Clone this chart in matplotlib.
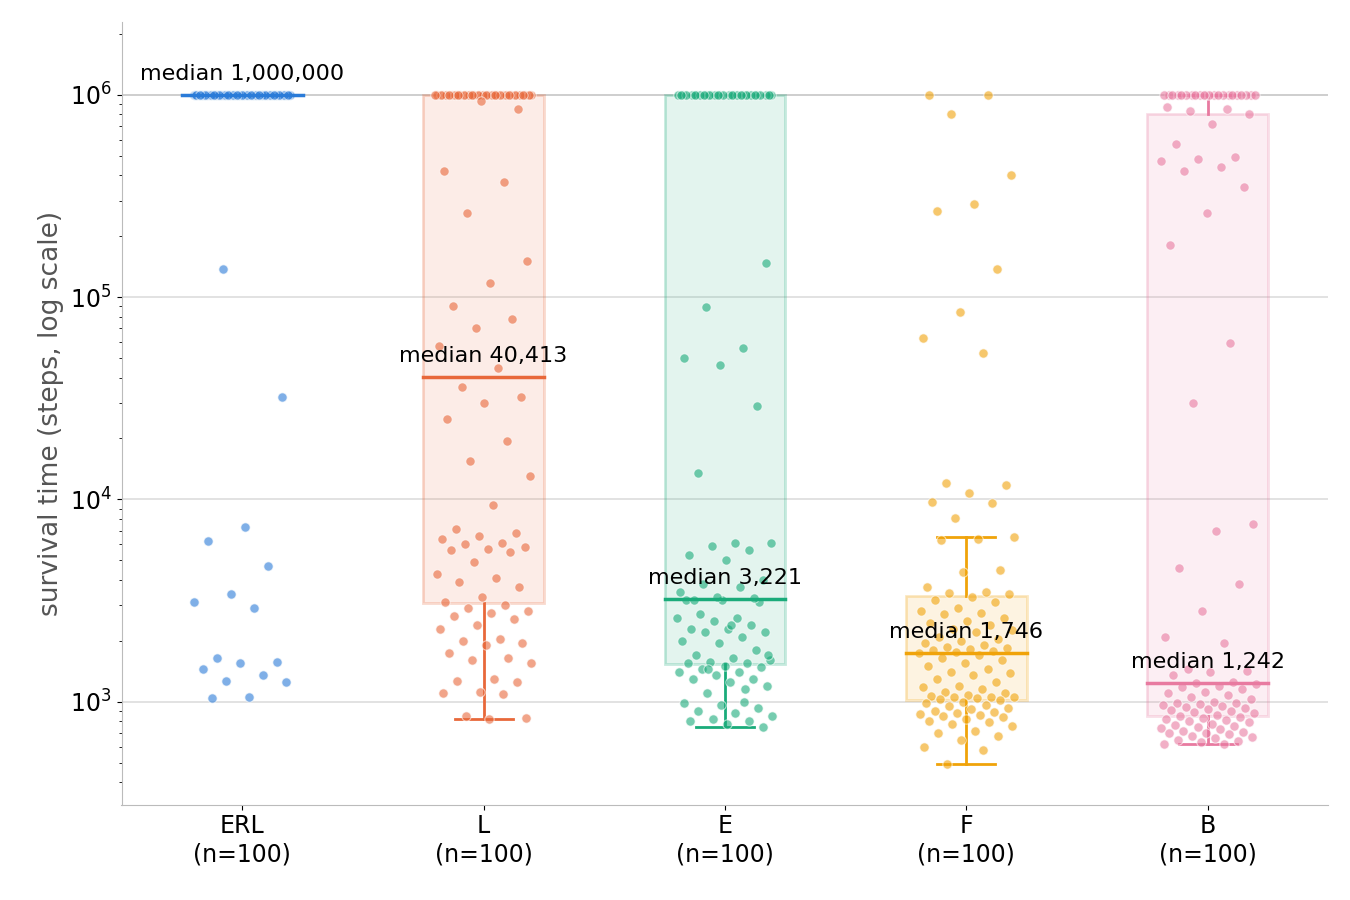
import numpy as np
import matplotlib
matplotlib.use("Agg")
import matplotlib.pyplot as plt

categories = ["ERL", "L", "E", "F", "B"]
colors = ["#2a7bd8", "#e8683a", "#1aab7a", "#f0a30a", "#e87aa0"]

erl = [1e6]*83 + [138000, 32000, 7300, 6200, 4700, 3400, 3100, 2900, 1650, 1580,
                  1550, 1450, 1350, 1270, 1250, 1050, 1040]
l_vals = [1e6]*38 + [850000, 930000, 420000, 370000, 260000, 150000, 118000, 90000, 78000, 70000,
                     57000, 44826, 36000, 32000, 30000, 25000, 19500, 15500, 13000, 9400,
                     7100, 6800, 6600, 6400, 6100, 6000, 5800, 5700, 5600, 5500,
                     4900, 4300, 4100, 3900, 3700, 3300, 3100, 3000, 2900, 2800,
                     2750, 2650, 2550, 2400, 2300, 2050, 2000, 1950, 1900, 1750,
                     1650, 1600, 1550, 1300, 1270, 1250, 1120, 1100, 1090, 850, 830, 820]
e_vals = [1e6]*31 + [750, 780, 800, 800, 820, 850, 880, 900, 930, 960,
                     980, 1000, 1100, 1200, 1250, 1300, 1300, 1350, 1400, 1400,
                     1450, 1480, 1500, 1550, 1550, 1580, 1600, 1650, 1700, 1800,
                     1950, 2000, 2100, 2200, 2200, 2300, 2300, 2400, 2500, 2600,
                     2600, 2700, 3100, 3200, 3200, 1150, 1450, 1700, 2400, 3200,
                     3242, 3300, 3500, 3700, 3800, 4000, 5000, 5300, 5600, 5900,
                     6100, 6100, 13500, 29000, 46000, 50000, 56000, 89000, 148000]
f_vals = [1e6, 1e6, 800000, 400000, 290000, 265000, 138000, 84000, 63000, 53000,
          12000, 11800, 10700, 9700, 9600, 8100,
          6500, 6400, 6300, 4500, 4400, 3700, 3500, 3450, 3400,
          3300, 3200, 3100, 2900, 2800, 2750, 2700, 2600, 2500, 2450, 2400, 2300, 2250,
          2200, 2100, 2050, 2000, 1950, 1900, 1870, 1850, 1820, 1800, 1780, 1760,
          1732, 1700, 1650, 1600, 1550, 1500, 1450, 1400, 1380, 1350, 1300, 1250, 1200,
          1180, 1150, 1120, 1100, 1080, 1070, 1060, 1050, 1050, 1040, 1030, 1020,
          1000, 980, 960, 950, 930, 920, 900, 890, 880, 870, 860, 850, 840, 820, 800,
          790, 780, 760, 720, 700, 680, 650, 600, 580, 490]
b_vals = [1e6]*22 + [870000, 850000, 830000, 800000, 720000,
                     570000, 490000, 480000, 470000, 440000, 420000, 350000, 260000, 180000, 59000,
                     30000, 7600, 7000, 4600, 3800, 2800, 2100, 1950, 1450, 1420, 1400, 1350, 1250,
                     1234, 1220, 1200, 1180, 1150, 1120, 1100, 1080, 1050, 1030, 1000, 990, 980,
                     970, 960, 950, 940, 930, 920, 910, 900, 890, 880, 860, 850,
                     840, 830, 820, 810, 800, 790, 780, 770, 760, 750, 740, 730, 720, 710,
                     700, 700, 690, 680, 670, 660, 650, 640, 630, 620, 620]
groups = [erl, l_vals, e_vals, f_vals, b_vals]

fig = plt.figure(figsize=(13.5, 9), dpi=100)
ax = fig.add_axes([0.09, 0.106, 0.894, 0.87])
ax.set_yscale("log")
ax.set_ylim(310, 2.3e6)
ax.set_xlim(-0.5, 4.5)

for i, (vals, c) in enumerate(zip(groups, colors)):
    v = np.array(vals, dtype=float)
    q1, med, q3 = np.percentile(v, [25, 50, 75])
    iqr = q3 - q1
    lo = v[v >= q1 - 1.5*iqr].min()
    hi = v[v <= q3 + 1.5*iqr].max()
    if q3 > q1:
        ax.add_patch(plt.Rectangle((i-0.25, q1), 0.5, q3-q1, facecolor=c, alpha=0.12,
                                   edgecolor="none", zorder=1))
        ax.add_patch(plt.Rectangle((i-0.25, q1), 0.5, q3-q1, facecolor="none",
                                   edgecolor=c, alpha=0.25, lw=2, zorder=1))
    if lo < q1:
        ax.plot([i, i], [lo, q1], color=c, lw=2, zorder=2)
        ax.plot([i-0.12, i+0.12], [lo, lo], color=c, lw=2, zorder=2)
    if hi > q3:
        ax.plot([i, i], [q3, hi], color=c, lw=2, zorder=2)
        ax.plot([i-0.12, i+0.12], [hi, hi], color=c, lw=2, zorder=2)
    ax.plot([i-0.25, i+0.25], [med, med], color=c, lw=2.5, zorder=4)
    ax.text(i, med*1.13, f"median {med:,.0f}", ha="center", va="bottom", fontsize=16, zorder=5)
    n = len(v)
    jit = ((np.arange(n)*0.618034 + i*0.37) % 1 - 0.5)*0.4
    ax.scatter(i + jit, v, s=45, color=c, alpha=0.6, edgecolors="white", linewidths=0.8, zorder=3)

ax.axhline(1e6, color="gray", lw=1.3, zorder=0)
ax.yaxis.grid(True, which="major", color="#dddddd", lw=1.2)
ax.set_axisbelow(True)
ax.set_xticks(range(5))
ax.set_xticklabels([f"{c}\n(n={len(g)})" for c, g in zip(categories, groups)], fontsize=17)
ax.tick_params(axis="y", labelsize=17)
ax.set_ylabel("survival time (steps, log scale)", fontsize=19, color="#555555")
for s in ["top", "right"]:
    ax.spines[s].set_visible(False)
for s in ["left", "bottom"]:
    ax.spines[s].set_color("#bbbbbb")
fig.savefig("out.png", dpi=100)
